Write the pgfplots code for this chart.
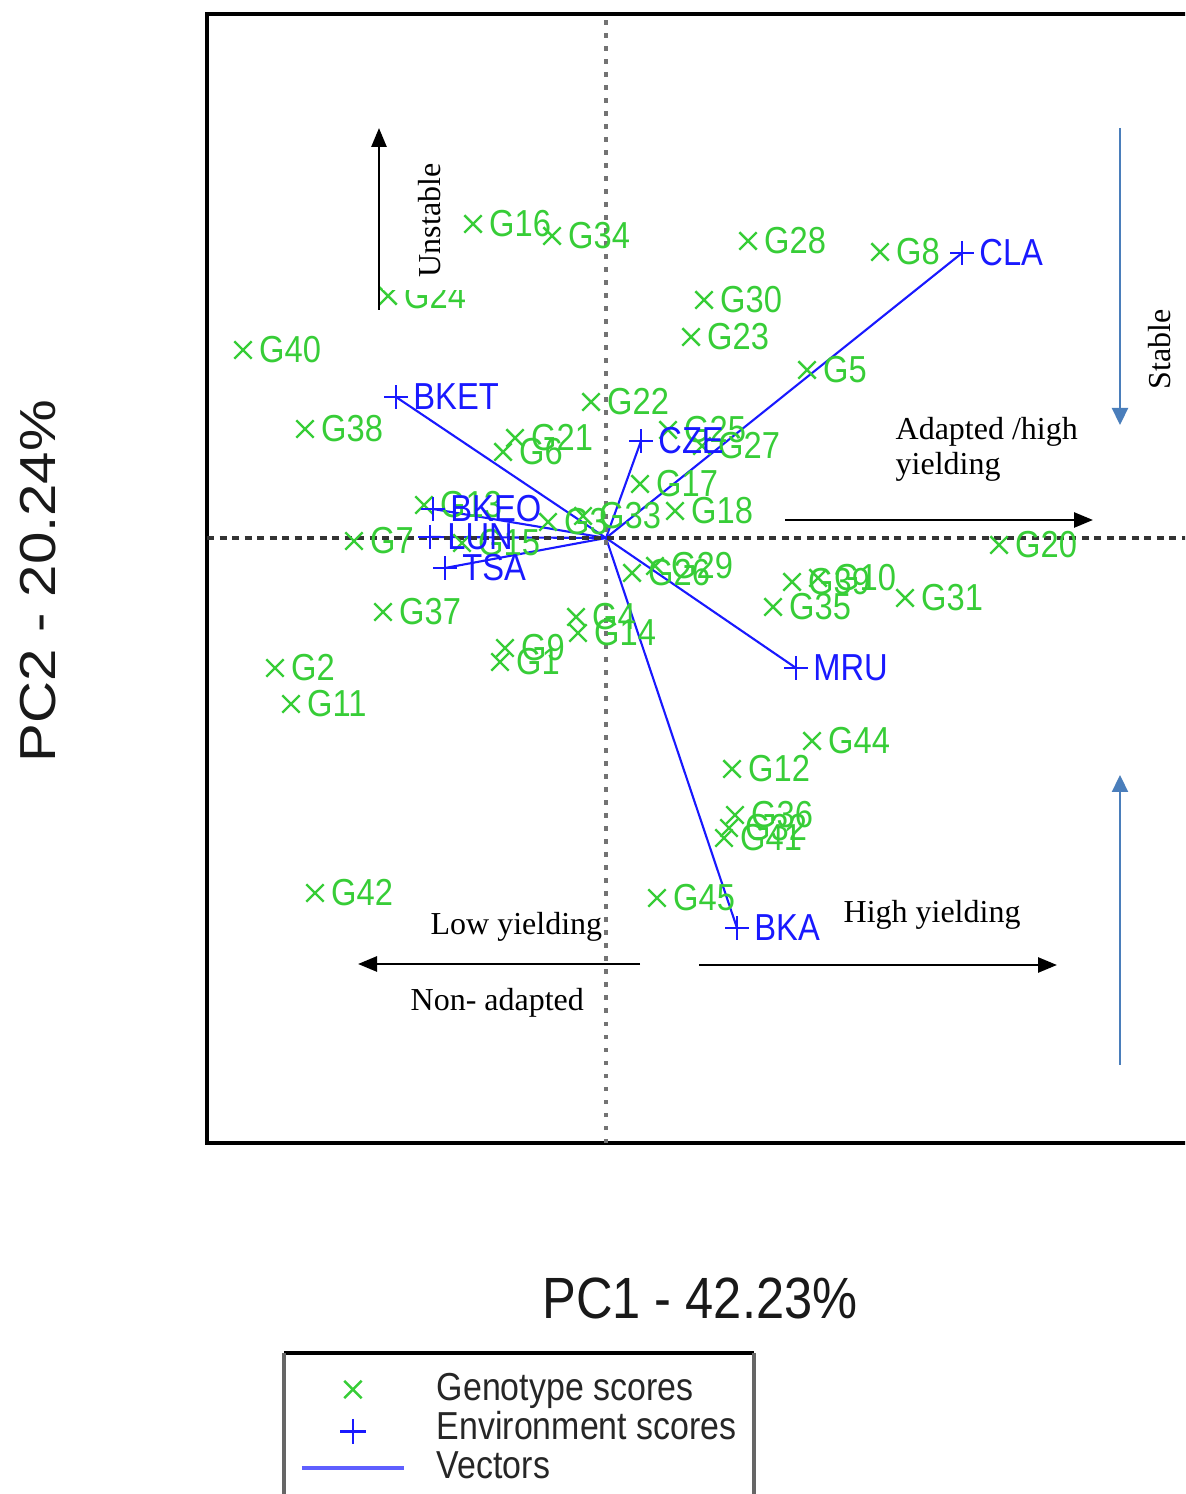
\documentclass[border=0pt]{standalone}
\usepackage{pgfplots}
\pgfplotsset{compat=1.18}
\usepackage{pgfplotstable}
\usepackage{fontspec}
\setmainfont{Liberation Serif}
\setsansfont{Liberation Sans}
\usetikzlibrary{arrows.meta}

\definecolor{genogreen}{RGB}{55,205,55}
\definecolor{envblue}{RGB}{25,25,255}
\definecolor{legblue}{RGB}{95,95,255}
\definecolor{guideblue}{RGB}{74,126,187}

% genotype scores (PC1, PC2)
\pgfplotstableread{
x y label
-1.33 3.14 G16
-0.54 3.02 G34
-2.18 2.42 G24
-3.63 1.88 G40
-3.01 1.09 G38
1.42 2.97 G28
2.74 2.86 G8
0.98 2.38 G30
0.85 2.01 G23
2.01 1.68 G5
-0.15 1.36 G22
-0.91 1.00 G21
-1.03 0.86 G6
0.62 1.08 G25
0.96 0.92 G27
0.34 0.54 G17
0.69 0.27 G18
3.93 -0.07 G20
-2.52 -0.03 G7
-1.82 0.33 G13
-1.44 -0.05 G15
-0.58 0.16 G3
-0.23 0.22 G33
-2.23 -0.74 G37
-3.31 -1.30 G2
-3.15 -1.66 G11
-2.91 -3.55 G42
-1.01 -1.10 G9
-1.06 -1.24 G1
-0.30 -0.79 G4
-0.28 -0.95 G14
0.26 -0.35 G26
0.49 -0.28 G29
1.86 -0.44 G39
2.12 -0.40 G10
1.67 -0.69 G35
2.99 -0.60 G31
2.06 -2.03 G44
1.26 -2.31 G12
1.29 -2.77 G36
1.23 -2.90 G32
1.18 -3.00 G41
0.51 -3.60 G45
}\genotypes

% environment scores (PC1, PC2)
\pgfplotstableread{
x y label
3.56 2.85 CLA
-2.10 1.41 BKET
0.35 0.97 CZE
-1.73 0.29 BKEO
-1.76 0.01 LUN
-1.61 -0.30 TSA
1.90 -1.30 MRU
1.31 -3.90 BKA
}\environments

\newcommand{\lbl}[1]{\scalebox{1}[1.15]{#1}}
\newcommand{\lblfont}{\sffamily\fontsize{9.3}{11}\selectfont}
\newcommand{\legfont}{\sffamily\fontsize{9.65}{11}\selectfont}
\newcommand{\notefont}{\rmfamily\fontsize{9.1}{11}\selectfont}

\tikzset{
  blackarrow/.style={line width=0.75pt, black, -{Triangle[length=0.19cm, width=0.15cm]}},
  bluearrow/.style={line width=0.65pt, guideblue, -{Triangle[length=0.17cm, width=0.16cm]}},
}

\begin{document}
\begin{tikzpicture}[x=1cm, y=1cm]
\path[use as bounding box] (0,0) rectangle (11.85,14.94);
\clip (0,0) rectangle (11.85,14.94);

\begin{axis}[
  x=1cm, y=1cm,
  at={(2.07cm,3.51cm)}, anchor=south west,
  xmin=-3.99, xmax=6.4, ymin=-6.05, ymax=5.24,
  xtick=\empty, ytick=\empty,
  axis line style={line width=1.25pt, black},
  legend style={at={(axis cs:-3.06,-8.28)}, anchor=north west,
    draw=none, fill=none, inner sep=0pt, outer sep=0pt,
    row sep=0pt, column sep=0.31cm, font=\legfont, text=black!85,
    nodes={inner sep=0pt, text height=0.34cm, text depth=0.05cm}},
  legend cell align=left,
]
% genotypes
\addplot[only marks, mark=x, mark size=3.5pt, genogreen,
  mark options={line width=0.7pt},
  point meta=explicit symbolic,
  nodes near coords={\lbl{\pgfplotspointmeta}},
  every node near coord/.append style={anchor=west, xshift=0.15cm,
    inner sep=0pt, text=genogreen, font=\lblfont},
  legend image code/.code={\draw[genogreen, line width=0.7pt]
    plot[only marks, mark=x, mark size=3.5pt] coordinates {(0.51cm,-0.04cm)};}
] table[meta=label] {\genotypes};
\addlegendentry{\lbl{Genotype scores}}

% vectors from the origin to each environment
\addplot[forget plot, envblue, line width=0.6pt,
  quiver={u=\thisrow{x}, v=\thisrow{y}}]
  table[x expr=0, y expr=0] {\environments};

% environments
\addplot[only marks, mark=+, mark size=3.3pt, envblue,
  mark options={line width=0.8pt},
  point meta=explicit symbolic,
  nodes near coords={\lbl{\pgfplotspointmeta}},
  every node near coord/.append style={anchor=west, xshift=0.16cm,
    inner sep=0pt, text=envblue, font=\lblfont},
  legend image code/.code={\draw[envblue, line width=0.8pt]
    plot[only marks, mark=+, mark size=3.6pt] coordinates {(0.51cm,-0.07cm)};}
] table[meta=label] {\environments};
\addlegendentry{\lbl{Environment scores}}

\addlegendimage{legend image code/.code={\draw[legblue, line width=1.1pt]
  (0cm,-0.04cm) -- (1.02cm,-0.04cm);}}
\addlegendentry{\lbl{Vectors}}

% reference lines through the origin
\draw[black!80, line width=1.1pt, dash pattern=on 0.07cm off 0.055cm]
  (axis cs:-3.99,0) -- (axis cs:6.4,0);
\draw[black!55, line width=1.3pt, dash pattern=on 0.045cm off 0.085cm]
  (axis cs:0,-6.05) -- (axis cs:0,5.24);
\end{axis}

% axis titles
\node[font=\sffamily\fontsize{14.4}{17}\selectfont, text=black!90] at (7.00,1.96)
  {\scalebox{1}[1.15]{PC1 - 42.23\%}};
\node[font=\sffamily\fontsize{14.4}{17}\selectfont, text=black!90, rotate=90] at (0.38,9.13)
  {\scalebox{1.15}[1]{PC2 - 20.24\%}};

% interpretation guides
\fill[white] (3.83,12.04) rectangle (4.62,13.44);
\draw[blackarrow] (3.79,11.84) -- (3.79,13.66);
\node[font=\notefont, rotate=90, anchor=base west, inner sep=0pt] at (4.40,12.16) {Unstable};

\draw[bluearrow] (11.20,13.66) -- (11.20,10.69);
\draw[bluearrow] (11.20,4.29) -- (11.20,7.19);
\node[font=\notefont, rotate=90, anchor=base west, inner sep=0pt] at (11.70,11.04) {Stable};

\node[font=\notefont, anchor=base west, inner sep=0pt] at (8.95,10.54) {Adapted /high};
\node[font=\notefont, anchor=base west, inner sep=0pt] at (8.95,10.19) {yielding};
\draw[blackarrow] (7.85,9.74) -- (10.93,9.74);

\node[font=\notefont, anchor=base west, inner sep=0pt] at (4.30,5.59) {Low yielding};
\draw[blackarrow] (6.40,5.30) -- (3.58,5.30);
\node[font=\notefont, anchor=base west, inner sep=0pt] at (4.10,4.84) {Non- adapted};

\node[font=\notefont, anchor=base west, inner sep=0pt] at (8.43,5.71) {High yielding};
\draw[blackarrow] (6.99,5.29) -- (10.57,5.29);

% legend frame
\draw[black, line width=0.9pt] (2.84,1.41) -- (7.54,1.41);
\draw[black!60, line width=0.9pt] (2.84,1.41) -- (2.84,-0.2);
\draw[black!60, line width=0.9pt] (7.54,1.41) -- (7.54,-0.2);
\end{tikzpicture}
\end{document}
